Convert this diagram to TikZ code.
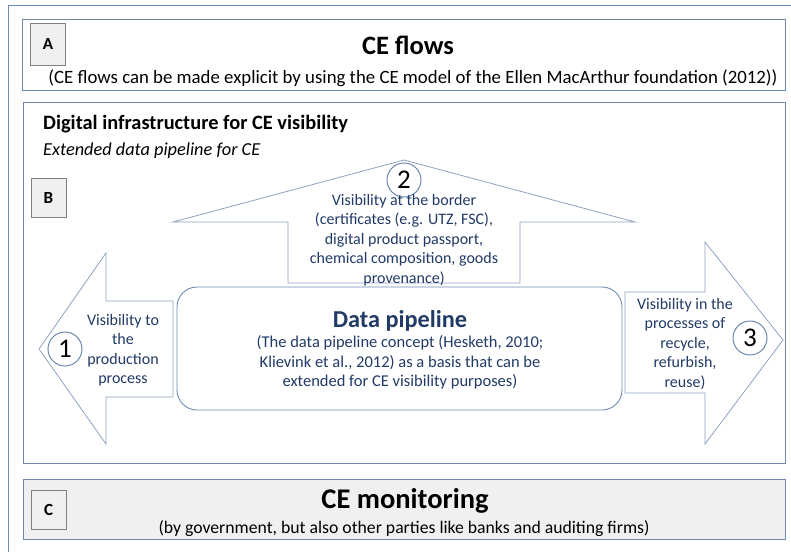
\documentclass[tikz,border=0pt]{standalone}
\usepackage{fontspec}
\setmainfont{Carlito}
\usetikzlibrary{positioning}
\definecolor{frameblue}{HTML}{6A8BBE}
\definecolor{edgeblue}{HTML}{6E89B0}
\definecolor{arrowblue}{HTML}{8FA2C1}
\definecolor{textblue}{HTML}{213A66}
\definecolor{tagfill}{HTML}{F0F0F0}

\begin{document}
\begin{tikzpicture}[x=1pt, y=-1pt,
  panel/.style={draw=edgeblue, line width=0.9pt},
  tag/.style={draw=gray, fill=tagfill, line width=0.9pt, minimum width=35pt,
    minimum height=40pt, inner sep=0pt, font=\fontsize{17}{20}\selectfont\bfseries},
  num/.style={circle, draw=edgeblue, line width=1pt, fill=white, minimum size=34pt,
    inner sep=0pt, font=\fontsize{27}{29}\selectfont},
  vis/.style={text=textblue, align=center, font=\fontsize{16}{19.5}\selectfont},
  bigarrow/.style={draw=arrowblue, fill=white, line width=0.8pt, line join=miter}
]
\useasboundingbox (0,0) rectangle (791,552);

% outer frame
\draw[frameblue, line width=0.9pt] (8,552) -- (8,5) -- (791,5);

% A: CE flows
\draw[panel] (22,19) rectangle (785,90);
\node[tag, minimum height=42pt] (tag_a) at (48,44) {A};
\node[anchor=base, font=\fontsize{26.5}{28}\selectfont\bfseries] (flows) at (408,54) {CE flows};
\node[anchor=base, font=\fontsize{18.8}{20}\selectfont] (flows_sub) at (413,83)
  {(CE flows can be made explicit by using the CE model of the Ellen MacArthur foundation (2012))};

% B: digital infrastructure
\draw[panel] (23,102) rectangle (785,463);
\node[anchor=base west, inner sep=0pt, font=\fontsize{20.4}{22}\selectfont\bfseries] (infra) at (43,129)
  {Digital infrastructure for CE visibility};
\node[anchor=base west, inner sep=0pt, font=\fontsize{18.3}{20}\selectfont\itshape] (ext) at (43,155)
  {Extended data pipeline for CE};
\node[tag, minimum height=39pt] (tag_b) at (48.5,197.5) {B};

% arrow 2 (up)
\draw[bigarrow] (404,160) -- (635,222) -- (520,222) -- (520,283)
  -- (288,283) -- (288,222) -- (173,222) -- cycle;
% arrow 1 (left)
\draw[bigarrow] (39,349) -- (106,253) -- (106,301) -- (173,301)
  -- (173,397) -- (106,397) -- (106,444) -- cycle;
% arrow 3 (right)
\draw[bigarrow] (783,340) -- (705,444) -- (705,393) -- (625,393)
  -- (625,292) -- (705,292) -- (705,242) -- cycle;

% numbers first, the texts go over them
\node[num] (num_1) at (65,349) {1};
\node[num] (num_2) at (404,180) {2};
\node[num] (num_3) at (750,338) {3};

% data pipeline
\draw[draw=edgeblue, line width=0.9pt, rounded corners=20pt] (177,287) rectangle (622,410);
\node[anchor=base, text=textblue, font=\fontsize{24.3}{26}\selectfont\bfseries] (pipe) at (400,327) {Data pipeline};
\node[vis, anchor=north, font=\fontsize{16.5}{19.5}\selectfont] (pipe_txt) at (400,332)
  {(The data pipeline concept (Hesketh, 2010;\\
    Klievink et al., 2012) as a basis that can be\\
    extended for CE visibility purposes)};

\node[vis, anchor=north] (vis_2) at (404,190.5)
  {Visibility at the border\\ (certificates (e.g. UTZ, FSC),\\ digital product passport,\\
   chemical composition, goods\\ provenance)};
\node[vis, anchor=north] (vis_1) at (123,310.5)
  {Visibility to\\ the\\ production\\ process};
\node[vis, anchor=north] (vis_3) at (685,294.5)
  {Visibility in the\\ processes of\\ recycle,\\ refurbish,\\ reuse)};

% C: CE monitoring
\draw[panel, fill=tagfill] (23,479) rectangle (785,539);
\node[tag, minimum height=39pt] (tag_c) at (48.5,509.5) {C};
\node[anchor=base, font=\fontsize{28.5}{30}\selectfont\bfseries] (monitor) at (405,508) {CE monitoring};
\node[anchor=base, font=\fontsize{17.7}{19}\selectfont] (monitor_sub) at (404,533)
  {(by government, but also other parties like banks and auditing firms)};
\end{tikzpicture}
\end{document}
